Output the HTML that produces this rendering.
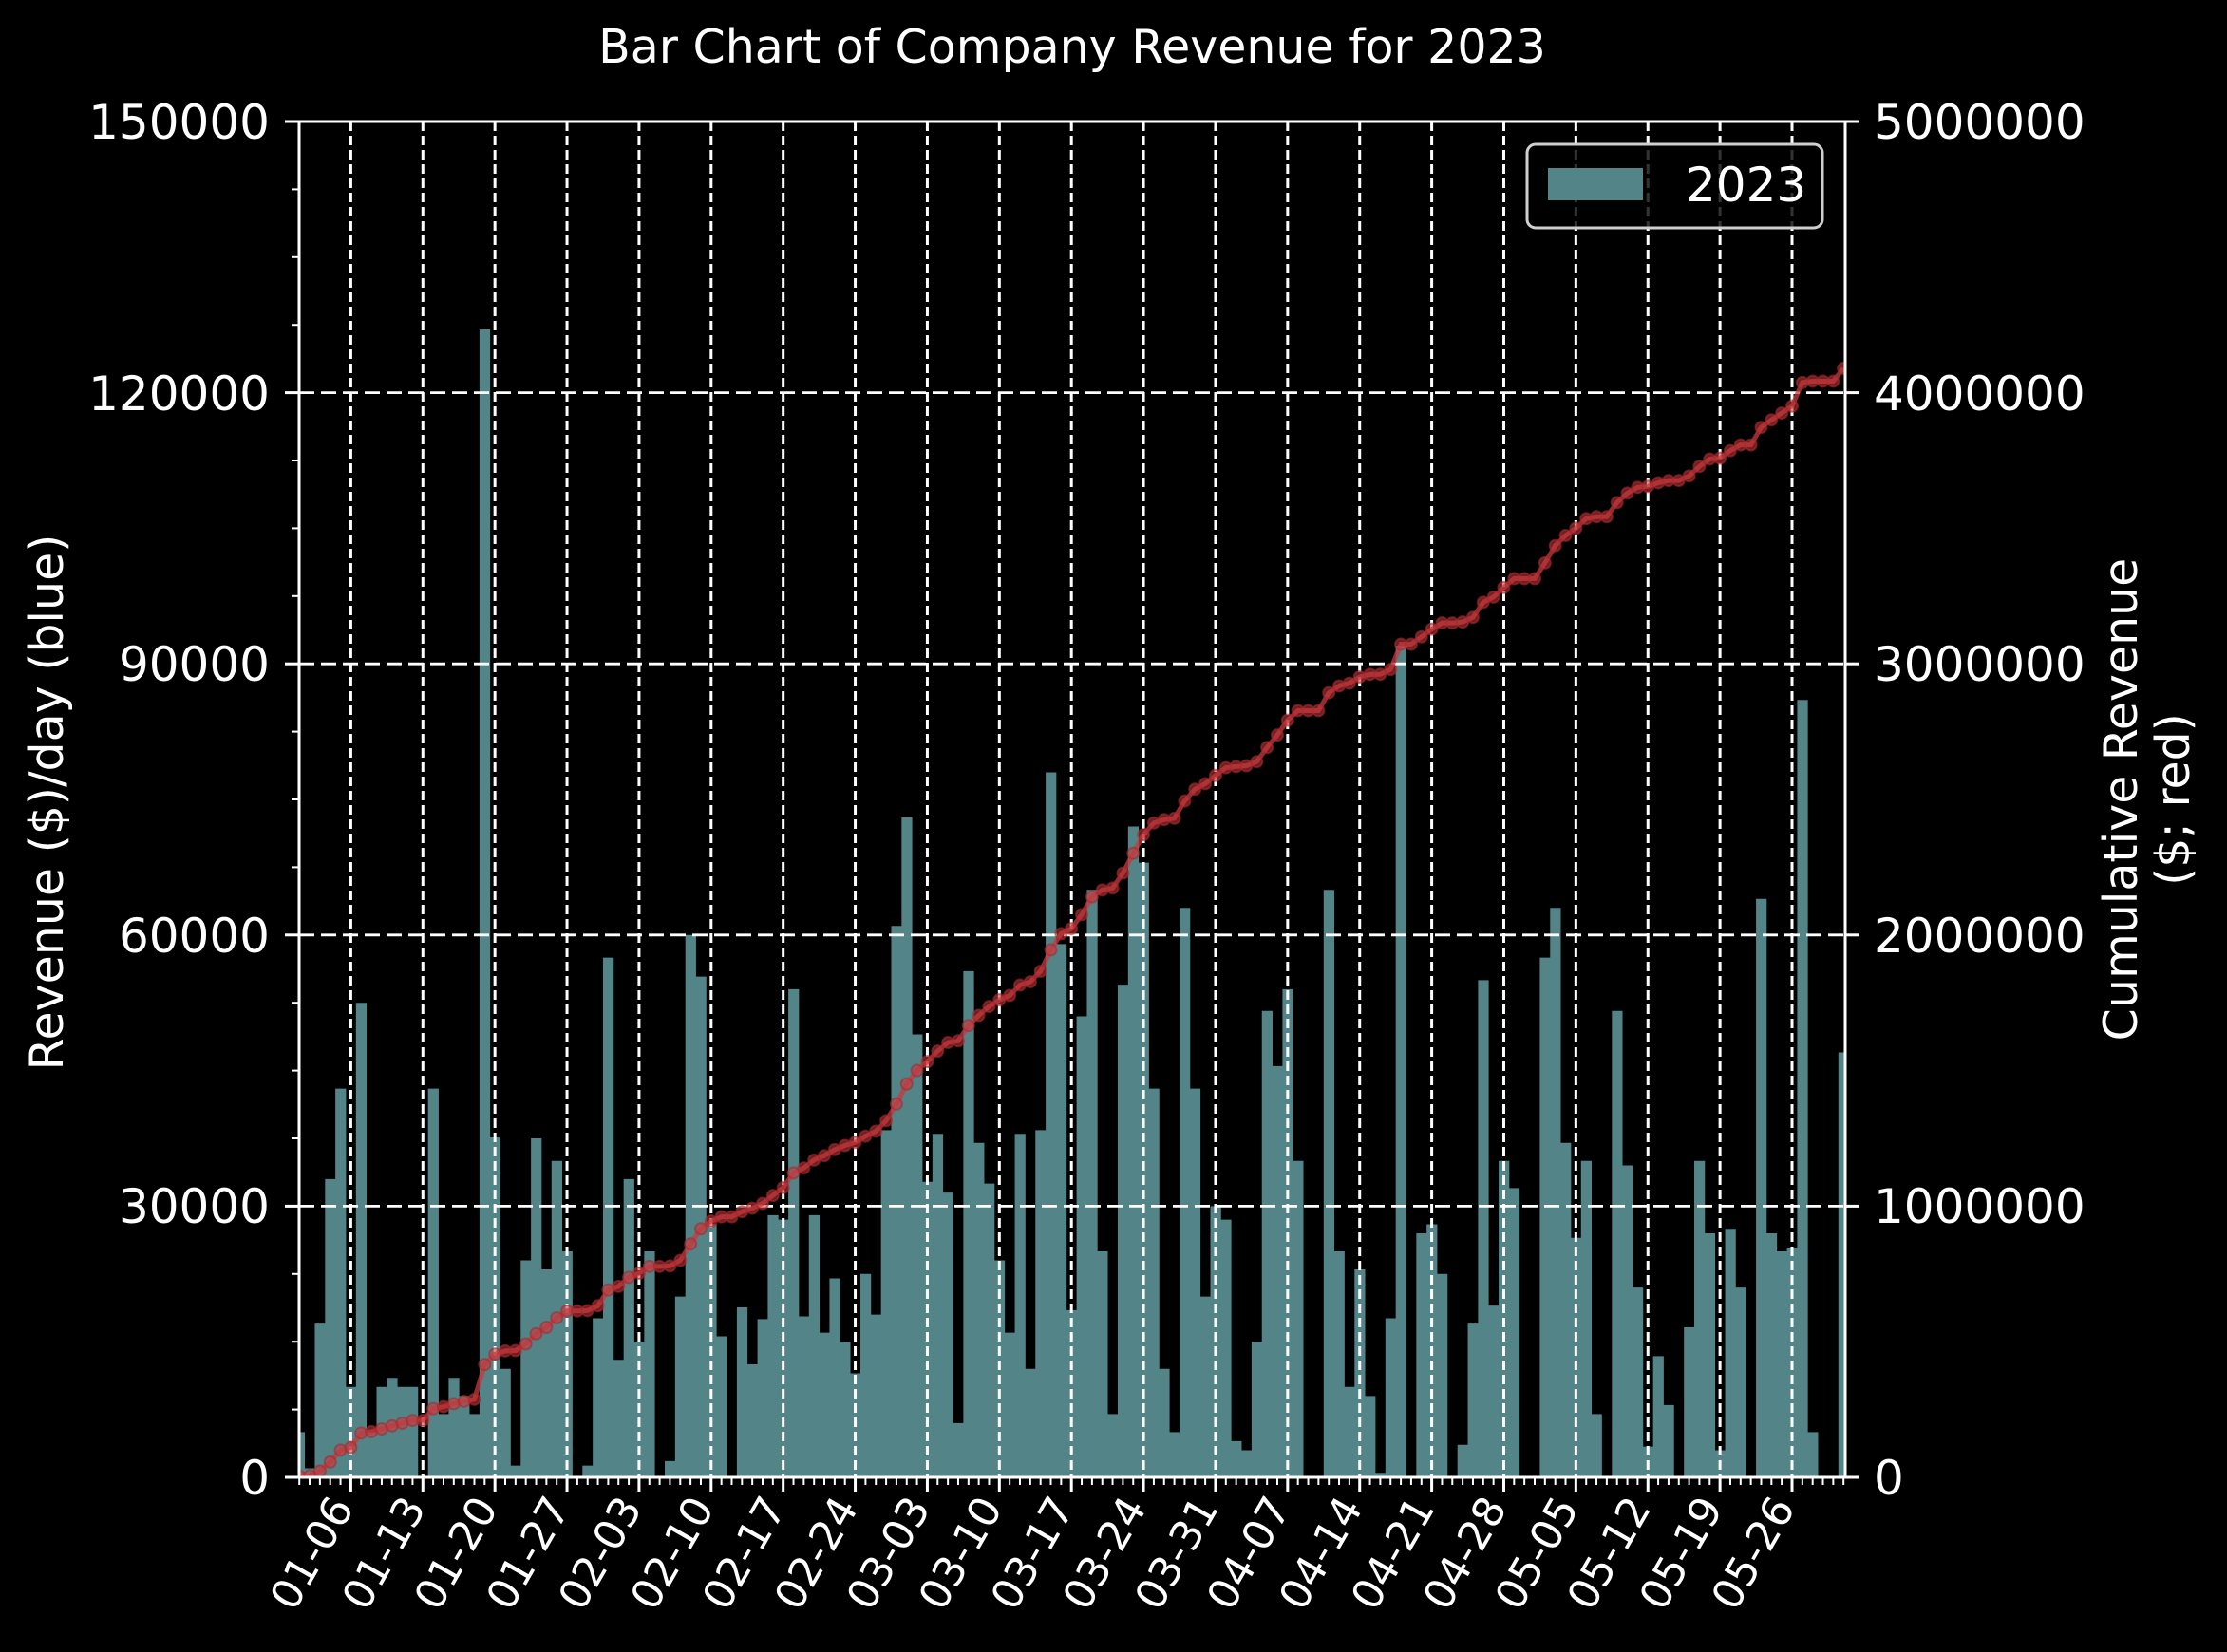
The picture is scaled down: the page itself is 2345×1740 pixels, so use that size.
<!DOCTYPE html>
<html><head><meta charset="utf-8"><style>
html,body{margin:0;padding:0;background:#000;}
svg{display:block;}
text{font-family:"DejaVu Sans","Liberation Sans",sans-serif;fill:#fff;}
</style></head><body>
<svg id="s" width="2345" height="1740" viewBox="0 0 2345 1740" xmlns="http://www.w3.org/2000/svg">
<rect width="2345" height="1740" fill="#000"/>
<defs><clipPath id="cp"><rect x="315" y="128" width="1628" height="1428"/></clipPath></defs>
<g id="bars" clip-path="url(#cp)"></g>
<g id="grid" stroke="#fff" fill="none"></g>
<g id="line" clip-path="url(#cp)"></g>
<g id="axes" stroke="#fff" stroke-width="3"></g>
<text x="1129" y="66" font-size="49" text-anchor="middle">Bar Chart of Company Revenue for 2023</text>
<text transform="translate(66,845) rotate(-90)" font-size="49" text-anchor="middle">Revenue ($)/day (blue)</text>
<text transform="translate(2250,842) rotate(-90)" font-size="49" text-anchor="middle">Cumulative Revenue</text>
<text transform="translate(2305,842) rotate(-90)" font-size="49" text-anchor="middle">($; red)</text>
<g font-size="50" text-anchor="end">
<text x="284" y="146">150000</text>
<text x="284" y="432">120000</text>
<text x="284" y="717">90000</text>
<text x="284" y="1003">60000</text>
<text x="284" y="1288">30000</text>
<text x="284" y="1574">0</text>
</g>
<g font-size="50">
<text x="1973" y="146">5000000</text>
<text x="1973" y="432">4000000</text>
<text x="1973" y="717">3000000</text>
<text x="1973" y="1003">2000000</text>
<text x="1973" y="1288">1000000</text>
<text x="1973" y="1574">0</text>
</g>
<g id="xl" font-size="44" text-anchor="end"></g>
<g>
<rect x="1608" y="152" width="311" height="88" rx="9" fill="#000" fill-opacity="0.8" stroke="#cfcfcf" stroke-width="3"/>
<rect x="1630" y="177" width="100" height="34" fill="#538488"/>
<text x="1775" y="212" font-size="50">2023</text>
</g>
</svg>
<script>
var v=[5,1,17,33,43,10,52.5,5,10,11,10,10,0,43,7,11,9,7,127,37.6,12,1.3,24,37.5,23,35,25,0,1.3,17.6,57.5,13,33,15,25,0,1.8,20,60,55.4,28,15.6,0,18.8,12.5,17.5,29,28.5,54,17.8,29,16,22,15,11.5,22.5,18,38.4,61,73,49,32.7,38,31.5,6,56,37,32.5,24,16,38,12,38.4,78,59,18.5,51,65,25,7,54.5,72,68,43,12,5,63,43,20,30,28.5,4,3,15,51.6,45.5,54,35,0,0,65,25,10,23,9,0.5,17.6,92,0,27,28,22.5,0,3.6,17,55,19,35,32,0,0,57.5,63,37,26.5,35,7,0,51.6,34.5,21,3.4,13.4,8,0,16.6,35,27,3,27.5,21,0,64,27,25,25.4,86,5,0,0,47];
var NS="http://www.w3.org/2000/svg";
function el(t,a,p){var e=document.createElementNS(NS,t);for(var k in a)e.setAttribute(k,a[k]);p.appendChild(e);return e;}
var L=315,R=1943,T=128,B=1556,w=10.84,C0=315.2;
function X(i){return C0+i*w;}
function Y(k){return B-k*(B-T)/150;}
var bars=document.getElementById('bars');
var d="";
for(var i=0;i<v.length;i++){
 var x0=X(i)-w/2,x1=X(i)+w/2;
 if(v[i]>0)d+="M"+x0.toFixed(2)+" "+B+"H"+(x1+0.4).toFixed(2)+"V"+Y(v[i]).toFixed(2)+"H"+x0.toFixed(2)+"Z";
}
el('path',{d:d,fill:'#538488'},bars);
var g=document.getElementById('grid');
for(var j=1;j<5;j++){var y=Y(30*j);el('line',{x1:L,x2:R,y1:y,y2:y,'stroke-width':2.8,'stroke-dasharray':'16 7'},g);}
var dates=["01-06","01-13","01-20","01-27","02-03","02-10","02-17","02-24","03-03","03-10","03-17","03-24","03-31","04-07","04-14","04-21","04-28","05-05","05-12","05-19","05-26"];
var xl=document.getElementById('xl');
for(var j=0;j<21;j++){var x=X(5+7*j);el('line',{x1:x,x2:x,y1:T,y2:B,'stroke-width':3,'stroke-dasharray':'10 5'},g);
 var t=el('text',{transform:'translate('+(x+4)+','+(B+32)+') rotate(-60)'},xl);t.textContent=dates[j];}
var s=0,c=[];for(var i=0;i<v.length;i++){s+=v[i];c.push(s);}
var f=4090/s;var pts=[];
for(var i=0;i<v.length;i++){pts.push(X(i).toFixed(2)+","+(B-c[i]*f*(B-T)/5000).toFixed(2));}
var lg=document.getElementById('line');
el('polyline',{points:pts.join(" "),fill:'none',stroke:'#c8383d','stroke-width':5,'stroke-opacity':0.75},lg);
for(var i=0;i<pts.length;i++){var p=pts[i].split(",");el('circle',{cx:p[0],cy:p[1],r:6,fill:'#c8383d','fill-opacity':0.55,stroke:'#a52a2f','stroke-width':2,'stroke-opacity':0.6},lg);}
var a=document.getElementById('axes');
el('rect',{x:L,y:T,width:R-L,height:B-T,fill:'none'},a);
for(var j=0;j<=5;j++){var y=Y(30*j);el('line',{x1:L-15,x2:L,y1:y,y2:y},a);el('line',{x1:R,x2:R+15,y1:y,y2:y},a);}
for(var j=0;j<20;j++){if(j%4==0)continue;var y=Y(7.5*j);el('line',{x1:L-8,x2:L,y1:y,y2:y,'stroke-width':2},a);}
for(var i=0;i<151;i++){var x=X(i);if(x>R+0.5)break;var maj=(i-5)%7==0&&i>=5;el('line',{x1:x,x2:x,y1:B,y2:B+(maj?15:8),'stroke-width':maj?3:2},a);}
</script>
</body></html>
